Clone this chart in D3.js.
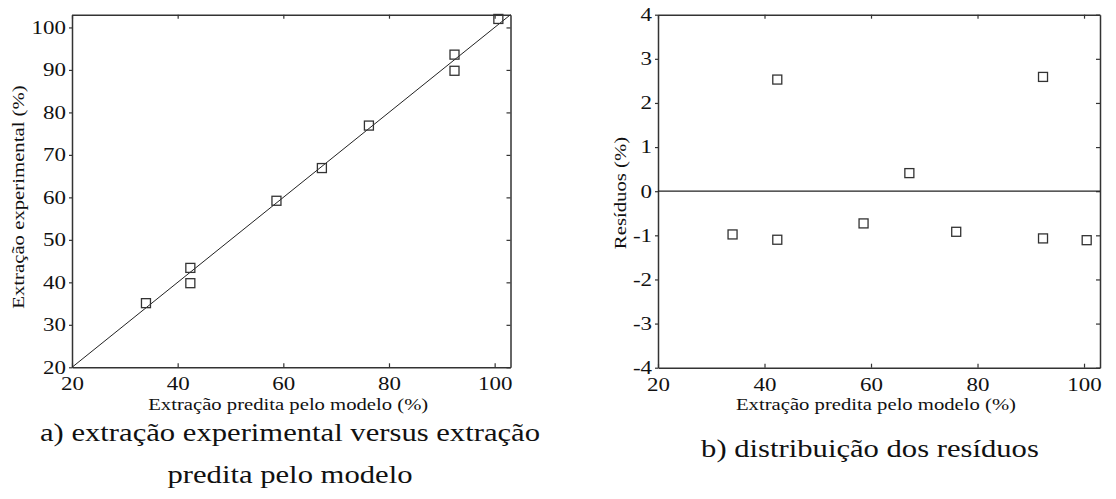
<!DOCTYPE html>
<html>
<head>
<meta charset="utf-8">
<script src="https://cdn.jsdelivr.net/npm/d3@7"></script>
<style>
  html, body { margin: 0; padding: 0; background: #fff; }
  svg { display: block; }
  text { font-family: "Liberation Serif", "Times New Roman", serif; fill: #111; }
</style>
</head>
<body>
<svg id="fig" width="1116" height="499"></svg>
<script>
// Extraction predicted by the model (%) and the measured values
const predicted    = [34.0, 42.4, 42.4, 58.7, 67.3, 76.2, 92.4, 92.4, 100.7];
const experimental = [35.1, 43.4, 39.8, 59.2, 66.9, 76.9, 93.6, 89.8, 102.0];

// Residual distribution (%) against the predicted extraction
const residualX = [34.0, 42.4, 42.4, 58.6, 67.2, 76.0, 92.3, 92.3, 100.5];
const residuals = [-0.98, -1.10, 2.53, -0.73, 0.41, -0.92, -1.07, 2.59, -1.11];

// Axis ticks
const xTicks  = [20, 40, 60, 80, 100];
const yTicksA = [20, 30, 40, 50, 60, 70, 80, 90, 100];
const yTicksB = [-4, -3, -2, -1, 0, 1, 2, 3, 4];

// Texts
const xTitle   = "Extração predita pelo modelo (%)";
const yTitleA  = "Extração experimental (%)";
const yTitleB  = "Resíduos (%)";
const captionA = ["a) extração experimental versus extração", "predita pelo modelo"];
const captionB = "b) distribuição dos resíduos";

const svg = d3.select("#fig");
const STRETCH = 1.24;   // horizontal widening of the serif glyphs
const frameColor = "#333";
const plainNumber = d => String(d);   // keeps the ASCII hyphen for negatives

function widen(sel, k) {
  sel.each(function () {
    const len = this.getComputedTextLength();
    d3.select(this).attr("textLength", len * k).attr("lengthAdjust", "spacingAndGlyphs");
  });
}
function fitTo(sel, w) {
  const len = sel.node().getComputedTextLength();
  sel.attr("textLength", w).attr("lengthAdjust", "spacingAndGlyphs");
  return w / len;
}

function panel(opt) {
  const g = svg.append("g");
  const x = d3.scaleLinear().domain([20, 103]).range([opt.left, opt.right]);
  const y = d3.scaleLinear().domain(opt.yDomain).range([opt.bottom, opt.top]);

  // bottom axis, inward ticks
  const gx = g.append("g").attr("transform", `translate(0,${opt.bottom})`)
    .call(d3.axisBottom(x).tickValues(xTicks).tickFormat(plainNumber)
      .tickSizeInner(-4).tickSizeOuter(0).tickPadding(10));
  // top axis, inward ticks, no labels
  const gxt = g.append("g").attr("transform", `translate(0,${opt.top})`)
    .call(d3.axisTop(x).tickValues(xTicks).tickSizeInner(-4).tickSizeOuter(0).tickFormat(""));
  // left axis, outward ticks
  const gy = g.append("g").attr("transform", `translate(${opt.left},0)`)
    .call(d3.axisLeft(y).tickValues(opt.yTicks).tickFormat(plainNumber)
      .tickSizeInner(3).tickSizeOuter(0).tickPadding(3));
  // right axis, inward ticks, no labels
  const gyr = g.append("g").attr("transform", `translate(${opt.right},0)`)
    .call(d3.axisRight(y).tickValues(opt.yTicks).tickSizeInner(-4).tickSizeOuter(0).tickFormat(""));

  [gx, gxt, gy, gyr].forEach(a => {
    a.select(".domain").attr("stroke", frameColor).attr("stroke-width", 1.5);
    a.selectAll(".tick line").attr("stroke", frameColor).attr("stroke-width", 1.2);
    a.selectAll("text").attr("font-size", 18.5).attr("font-family", null).attr("fill", null);
  });
  gx.selectAll(".tick text").attr("dy", "0.71em");
  widen(gx.selectAll(".tick text"), STRETCH);
  widen(gy.selectAll(".tick text"), STRETCH);

  // x title
  const xt = g.append("text")
    .attr("x", (opt.left + opt.right) / 2 - 3).attr("y", 410)
    .attr("text-anchor", "middle").attr("font-size", 17).text(xTitle);
  fitTo(xt, 280);

  // y title
  const yt = g.append("text")
    .attr("transform", `translate(${opt.yTitleX},${opt.yTitleY}) rotate(-90)`)
    .attr("text-anchor", "middle").attr("font-size", 17).text(opt.yTitle);
  widen(yt, opt.yTitleK);

  return { g, x, y };
}

// Panel a: experimental vs predicted
const A = panel({ left: 72, right: 510.5, top: 14.7, bottom: 367.3,
  yDomain: [20, 103], yTicks: yTicksA, yTitleX: 24, yTitleY: 197, yTitleK: 1.22, yTitle: yTitleA });

A.g.append("line")
  .attr("x1", A.x(20)).attr("y1", A.y(20))
  .attr("x2", A.x(103)).attr("y2", A.y(103))
  .attr("stroke", "#222").attr("stroke-width", 1);

const S = 9;
A.g.selectAll("rect.pt").data(predicted.map((p, i) => [p, experimental[i]]))
  .join("rect").attr("class", "pt")
  .attr("x", d => A.x(d[0]) - S / 2).attr("y", d => A.y(d[1]) - S / 2)
  .attr("width", S).attr("height", S)
  .attr("fill", "none").attr("stroke", "#333").attr("stroke-width", 1.3);

// Panel b: residuals
const B = panel({ left: 658, right: 1100, top: 14.7, bottom: 367.7,
  yDomain: [-4, 4], yTicks: yTicksB, yTitleX: 626, yTitleY: 193, yTitleK: 1.22, yTitle: yTitleB });

B.g.append("line")
  .attr("x1", B.x(20)).attr("y1", B.y(0))
  .attr("x2", B.x(103)).attr("y2", B.y(0))
  .attr("stroke", "#222").attr("stroke-width", 1.2);

B.g.selectAll("rect.pt").data(residualX.map((p, i) => [p, residuals[i]]))
  .join("rect").attr("class", "pt")
  .attr("x", d => B.x(d[0]) - S / 2).attr("y", d => B.y(d[1]) - S / 2)
  .attr("width", S).attr("height", S)
  .attr("fill", "none").attr("stroke", "#333").attr("stroke-width", 1.3);

// Captions
const cap1 = svg.append("text")
  .attr("x", 290).attr("y", 441)
  .attr("text-anchor", "middle").attr("font-size", 26).text(captionA[0]);
const capK = fitTo(cap1, 500);
const cap2 = svg.append("text")
  .attr("x", 290).attr("y", 483)
  .attr("text-anchor", "middle").attr("font-size", 26).text(captionA[1]);
widen(cap2, capK);
const cb = svg.append("text")
  .attr("x", 870).attr("y", 457)
  .attr("text-anchor", "middle").attr("font-size", 26).text(captionB);
widen(cb, capK);
</script>
</body>
</html>
